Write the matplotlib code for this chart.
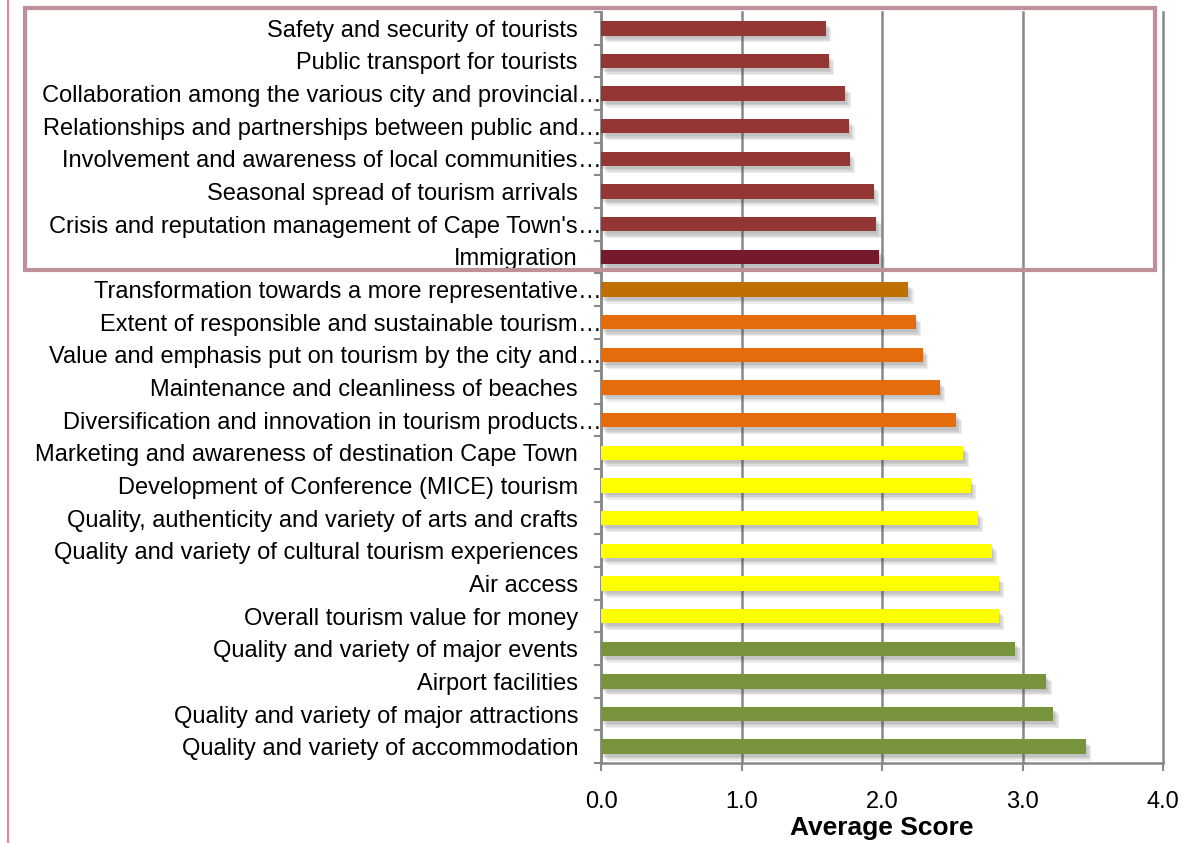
import matplotlib
matplotlib.use('Agg')
import matplotlib.pyplot as plt
import matplotlib.patheffects as pe
import matplotlib.transforms as mtransforms
from matplotlib.patches import Rectangle
from matplotlib.lines import Line2D
import numpy as np

plt.rcParams['font.family'] = ['Liberation Sans', 'DejaVu Sans']

# top to bottom as listed on the chart
categories = [
    "Safety and security of tourists",
    "Public transport for tourists",
    "Collaboration among the various city and provincial\u2026",
    "Relationships and partnerships between public and\u2026",
    "Involvement and awareness of local communities\u2026",
    "Seasonal spread of tourism arrivals",
    "Crisis and reputation management of Cape Town's\u2026",
    "Immigration",
    "Transformation towards a more representative\u2026",
    "Extent of responsible and sustainable tourism\u2026",
    "Value and emphasis put on tourism by the city and\u2026",
    "Maintenance and cleanliness of beaches",
    "Diversification and innovation in tourism products\u2026",
    "Marketing and awareness of destination Cape Town",
    "Development of Conference (MICE) tourism",
    "Quality, authenticity and variety of arts and crafts",
    "Quality and variety of cultural tourism experiences",
    "Air access",
    "Overall tourism value for money",
    "Quality and variety of major events",
    "Airport facilities",
    "Quality and variety of major attractions",
    "Quality and variety of accommodation",
]
scores = [1.60, 1.62, 1.74, 1.765, 1.77, 1.94, 1.96, 1.98,
          2.185, 2.24, 2.29, 2.41, 2.53,
          2.58, 2.63, 2.68, 2.78, 2.83, 2.83,
          2.95, 3.17, 3.22, 3.45]
bar_colors = (['#943634'] * 7 + ['#76192B'] + ['#C07000'] + ['#E46C0A'] * 4
              + ['#FFFF00'] * 6 + ['#77933C'] * 4)
xticks = [0.0, 1.0, 2.0, 3.0, 4.0]

W, H = 1198, 843
fig = plt.figure(figsize=(W / 100, H / 100), dpi=100)
ax = fig.add_axes([601 / W, 1 - 763 / H, (1163 - 601) / W, (763 - 12) / H])

n = len(categories)
ypos = np.arange(n)[::-1]
bars = ax.barh(ypos, scores, height=0.44, color=bar_colors, zorder=3)
# soft drop shadow built from a few faint offset copies
shadow = [pe.SimplePatchShadow(offset=(k, -k - 1), shadow_rgbFace='#404040', alpha=0.09)
          for k in (1, 2, 3, 4)]
for b in bars:
    b.set_path_effects(shadow + [pe.Normal()])

ax.set_xlim(0, 4)
ax.set_ylim(-0.5, n - 0.5)
ax.set_xticks(xticks)
ax.set_xticklabels([f'{t:.1f}' for t in xticks], fontsize=17)
ax.set_yticks(ypos)
ax.set_yticklabels([])
ax.set_yticks(np.arange(n + 1) - 0.5, minor=True)
ax.tick_params(axis='y', which='major', length=0)
ax.tick_params(axis='y', which='minor', length=5, width=1.5, color='#888888')
ax.tick_params(axis='x', which='major', length=6, width=1.5, color='#888888', pad=14)

# category labels: text right-aligned, the ellipsis of cut labels runs past the edge
lab_tr = ax.get_yaxis_transform() + mtransforms.ScaledTranslation(-23 / 100, 0, fig.dpi_scale_trans)
for y, lab in zip(ypos, categories):
    base = lab.rstrip('\u2026')
    ax.text(0, y, base, transform=lab_tr, ha='right', va='center_baseline', fontsize=17)
    if lab.endswith('\u2026'):
        ax.text(0, y, '\u2026', transform=lab_tr, ha='left', va='center_baseline', fontsize=17)

ax.xaxis.grid(True, color='#888888', linewidth=1.8, zorder=0)
for gl in ax.get_xgridlines():
    gl.set_clip_on(False)
ax.set_axisbelow(True)
for side in ['top', 'right']:
    ax.spines[side].set_visible(False)
for side in ['left', 'bottom']:
    ax.spines[side].set_color('#888888')
    ax.spines[side].set_linewidth(1.8)

fig.text(882 / W, 1 - 828 / H, 'Average Score', fontsize=19, fontweight='bold',
         ha='center', va='center')

# highlight frame round the lowest-scoring group and the page margin line
fig.patches.append(Rectangle((25 / W, 1 - 270 / H), (1155 - 25) / W, (270 - 8) / H,
                             transform=fig.transFigure, fill=False,
                             edgecolor='#C0909A', linewidth=3, zorder=10))
fig.lines.append(Line2D([8 / W, 8 / W], [0, 1], transform=fig.transFigure,
                        color='#E08890', linewidth=1.5))

fig.savefig('out.png', dpi=100, facecolor='white')
